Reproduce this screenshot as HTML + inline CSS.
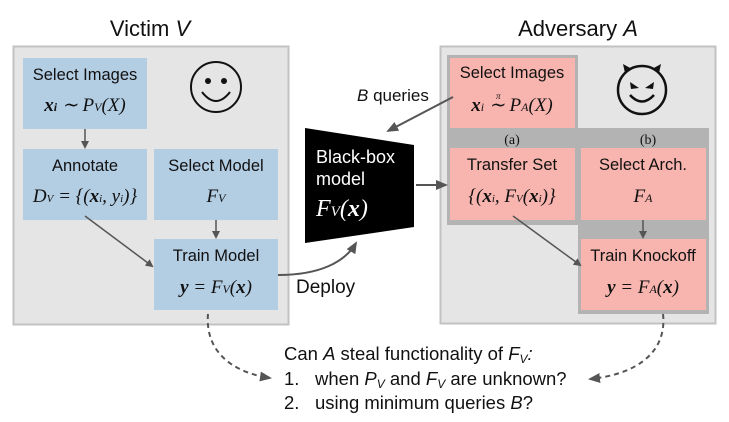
<!DOCTYPE html>
<html><head><style>
body{margin:0;background:#fff;width:729px;height:422px;overflow:hidden}
svg{display:block}
.s{font-family:"Liberation Sans",sans-serif;font-size:16.5px;fill:#111}
.m{font-family:"Liberation Serif",serif;font-size:19px;fill:#111;font-style:italic}
</style></head><body>
<svg width="729" height="422" viewBox="0 0 729 422">
<defs>
<marker id="ah" markerWidth="8" markerHeight="8" refX="6" refY="4" orient="auto" markerUnits="userSpaceOnUse"><path d="M0,0 L8,4 L0,8 z" fill="#555"/></marker>
<marker id="ah2" markerWidth="12" markerHeight="10" refX="10" refY="5" orient="auto" markerUnits="userSpaceOnUse"><path d="M0,0 L12,5 L0,10 z" fill="#555"/></marker>
</defs>
<text x="150" y="36" text-anchor="middle" font-family="Liberation Sans" font-size="22" fill="#111">Victim <tspan font-style="italic">V</tspan></text>
<text x="578" y="36" text-anchor="middle" font-family="Liberation Sans" font-size="22" fill="#111">Adversary <tspan font-style="italic">A</tspan></text>
<rect x="13.5" y="46.5" width="275" height="278" fill="#e5e5e5" stroke="#c2c2c2" stroke-width="2"/>
<rect x="23" y="58" width="124" height="71" fill="#b3cde3"/>
<rect x="23" y="149" width="124" height="71" fill="#b3cde3"/>
<rect x="154" y="149" width="124" height="71" fill="#b3cde3"/>
<rect x="154" y="239" width="124" height="71" fill="#b3cde3"/>
<text class="s" x="85" y="80" text-anchor="middle">Select Images</text>
<text class="m" x="85" y="111" text-anchor="middle" font-weight="bold">x<tspan font-size="12">i</tspan> <tspan font-weight="normal">∼ P<tspan font-size="12">V</tspan>(X)</tspan></text>
<text class="s" x="85" y="171" text-anchor="middle">Annotate</text>
<text class="m" x="85" y="202" text-anchor="middle" font-size="17">D<tspan font-size="11">V</tspan> = {(<tspan font-weight="bold">x</tspan><tspan font-size="11">i</tspan>, y<tspan font-size="11">i</tspan>)}</text>
<text class="s" x="216" y="171" text-anchor="middle">Select Model</text>
<text class="m" x="216" y="202" text-anchor="middle">F<tspan font-size="12">V</tspan></text>
<text class="s" x="216" y="261" text-anchor="middle">Train Model</text>
<text class="m" x="216" y="293" text-anchor="middle"><tspan font-weight="bold">y</tspan> = F<tspan font-size="12">V</tspan>(<tspan font-weight="bold">x</tspan>)</text>
<circle cx="216" cy="87" r="25" fill="none" stroke="#111" stroke-width="2"/>
<circle cx="208" cy="81" r="3" fill="#111"/><circle cx="224" cy="81" r="3" fill="#111"/>
<path d="M202,92 Q216,110 230,92" fill="none" stroke="#111" stroke-width="2"/>
<line x1="85" y1="129" x2="85" y2="147" stroke="#555" stroke-width="1.5" marker-end="url(#ah)"/>
<line x1="216" y1="220" x2="216" y2="237" stroke="#555" stroke-width="1.5" marker-end="url(#ah)"/>
<line x1="85" y1="216" x2="152" y2="266" stroke="#555" stroke-width="1.5" marker-end="url(#ah)"/>
<rect x="440.5" y="46.5" width="275" height="277" fill="#e5e5e5" stroke="#c2c2c2" stroke-width="2"/>
<rect x="447" y="55" width="131" height="75" fill="#b3b3b3"/>
<rect x="447" y="128" width="262" height="22" fill="#b3b3b3"/>
<rect x="447" y="128" width="131" height="97" fill="#b3b3b3"/>
<rect x="578" y="128" width="131" height="186" fill="#b3b3b3"/>
<rect x="450" y="58" width="125" height="70" fill="#f8b4ae"/>
<rect x="450" y="148" width="125" height="72" fill="#f8b4ae"/>
<rect x="581" y="148" width="125" height="72" fill="#f8b4ae"/>
<rect x="581" y="239" width="125" height="71" fill="#f8b4ae"/>
<text x="512" y="144" text-anchor="middle" font-family="Liberation Serif" font-size="14" fill="#111">(a)</text>
<text x="648" y="144" text-anchor="middle" font-family="Liberation Serif" font-size="14" fill="#111">(b)</text>
<text class="s" x="512" y="78" text-anchor="middle">Select Images</text>
<text class="m" x="512" y="111" text-anchor="middle"><tspan font-weight="bold">x</tspan><tspan font-size="12">i</tspan> ∼ P<tspan font-size="12">A</tspan>(X)</text>
<text x="496" y="99" font-family="Liberation Serif" font-size="9" font-style="italic" fill="#111">π</text>
<text class="s" x="512" y="170" text-anchor="middle">Transfer Set</text>
<text class="m" x="512" y="202" text-anchor="middle" font-size="17">{(<tspan font-weight="bold">x</tspan><tspan font-size="11">i</tspan>, F<tspan font-size="11">V</tspan>(<tspan font-weight="bold">x</tspan><tspan font-size="11">i</tspan>)}</text>
<text class="s" x="643" y="170" text-anchor="middle">Select Arch.</text>
<text class="m" x="643" y="202" text-anchor="middle">F<tspan font-size="12">A</tspan></text>
<text class="s" x="643" y="261" text-anchor="middle">Train Knockoff</text>
<text class="m" x="643" y="293" text-anchor="middle"><tspan font-weight="bold">y</tspan> = F<tspan font-size="12">A</tspan>(<tspan font-weight="bold">x</tspan>)</text>
<circle cx="642" cy="90" r="24" fill="none" stroke="#111" stroke-width="2.5"/>
<path d="M625,73 L623,64 L632,69 z M659,73 L661,64 L652,69 z" fill="#111"/>
<path d="M630,82 L639,88 L631,89 z M654,82 L645,88 L653,89 z" fill="#111"/>
<path d="M630,95 Q642,108 654,95" fill="none" stroke="#111" stroke-width="2.5"/>
<line x1="643" y1="220" x2="643" y2="237" stroke="#555" stroke-width="1.5" marker-end="url(#ah)"/>
<line x1="513" y1="216" x2="580" y2="265" stroke="#555" stroke-width="1.5" marker-end="url(#ah)"/>
<polygon points="305,128 414,145 414,227 305,243" fill="#000"/>
<text x="316" y="163" font-family="Liberation Sans" font-size="18" fill="#fff">Black-box</text>
<text x="316" y="185" font-family="Liberation Sans" font-size="18" fill="#fff">model</text>
<text x="316" y="216" font-family="Liberation Serif" font-size="24" font-style="italic" fill="#fff">F<tspan font-size="15">V</tspan>(<tspan font-weight="bold">x</tspan>)</text>
<line x1="453" y1="97" x2="388" y2="131" stroke="#555" stroke-width="2" marker-end="url(#ah2)"/>
<text x="357" y="101" font-family="Liberation Sans" font-size="17" fill="#111"><tspan font-style="italic">B</tspan> queries</text>
<line x1="416" y1="185" x2="446" y2="185" stroke="#555" stroke-width="2" marker-end="url(#ah2)"/>
<path d="M278,275 C320,275 345,262 356,243" fill="none" stroke="#555" stroke-width="2" marker-end="url(#ah2)"/>
<text x="296" y="293" font-family="Liberation Sans" font-size="19" fill="#111">Deploy</text>
<path d="M208,314 C205,350 230,372 270,378" fill="none" stroke="#555" stroke-width="2" stroke-dasharray="5,4" marker-end="url(#ah2)"/>
<path d="M663,314 C667,350 640,374 590,379" fill="none" stroke="#555" stroke-width="2" stroke-dasharray="5,4" marker-end="url(#ah2)"/>
<g font-family="Liberation Sans" font-size="18.5" fill="#111">
<text x="284" y="360">Can <tspan font-style="italic">A</tspan> steal functionality of <tspan font-style="italic">F<tspan font-size="12" dy="3">V</tspan><tspan dy="-3">:</tspan></tspan></text>
<text x="284" y="385">1.<tspan x="315">when <tspan font-style="italic">P<tspan font-size="12" dy="3">V</tspan></tspan><tspan dy="-3"> and </tspan><tspan font-style="italic">F<tspan font-size="12" dy="3">V</tspan></tspan><tspan dy="-3"> are unknown?</tspan></tspan></text>
<text x="284" y="409">2.<tspan x="315">using minimum queries <tspan font-style="italic">B</tspan>?</tspan></text>
</g>
</svg>
</body></html>
